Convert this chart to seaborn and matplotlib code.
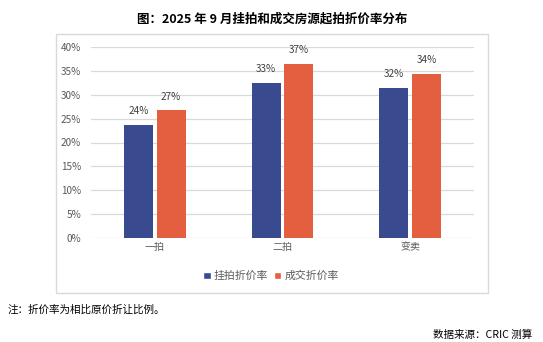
import matplotlib
matplotlib.use("Agg")
import matplotlib.pyplot as plt
import seaborn as sns
import pandas as pd
from matplotlib.patches import Rectangle, Patch

categories = ["一拍", "二拍", "变卖"]
series = ["挂拍折价率", "成交折价率"]
listed = [23.7, 32.5, 31.5]
closed = [26.8, 36.5, 34.4]
labels_listed = ["24%", "33%", "32%"]
labels_closed = ["27%", "37%", "34%"]
yticks = [0, 5, 10, 15, 20, 25, 30, 35, 40]
colors = ["#3A4A8F", "#E45F3F"]

df = pd.DataFrame({
    "cat": categories * 2,
    "series": [series[0]] * 3 + [series[1]] * 3,
    "val": listed + closed,
})

sns.set_theme(style="white")
plt.rcParams['font.family'] = ['Noto Sans CJK SC', 'DejaVu Sans']

W, H = 543, 342
fig = plt.figure(figsize=(W / 100, H / 100), dpi=100)

# outer chart box
fig.patches.append(Rectangle((56 / W, 1 - 293 / H), (488 - 56) / W, (293 - 34) / H,
                             transform=fig.transFigure, fill=False,
                             edgecolor="#D9D9D9", linewidth=1.0))

ax = fig.add_axes([91 / W, 1 - 238 / H, (474 - 91) / W, (238 - 47) / H])
sns.barplot(data=df, x="cat", y="val", hue="series", palette=colors,
            saturation=1, linewidth=0,
            width=0.51, gap=0.11, ax=ax, legend=False)

ax.set_ylim(0, 40)
ax.set_yticks(yticks)
ax.set_yticklabels([f"{t}%" for t in yticks], fontsize=7.2, color="#595959")
ax.tick_params(axis="x", labelsize=7.2, colors="#595959", length=0, pad=3)
ax.tick_params(axis="y", length=0, pad=7)
ax.set_xlabel("")
ax.set_ylabel("")
for s in ax.spines.values():
    s.set_visible(False)
ax.yaxis.grid(True, color="#D9D9D9", linewidth=0.9)
ax.set_axisbelow(True)

conts = ax.containers
for cont, labs in zip(conts, [labels_listed, labels_closed]):
    ax.bar_label(cont, labels=labs, padding=6, fontsize=7.2, color="#404040")

handles = [Patch(facecolor=c, label=l) for c, l in zip(colors, series)]
fig.legend(handles=handles, loc="center", bbox_to_anchor=(271 / W, 1 - 276 / H),
           ncol=2, frameon=False, fontsize=7.8, handlelength=0.7, handleheight=0.7,
           handletextpad=0.3, columnspacing=0.5, labelcolor="#595959")

fig.text(272 / W, 1 - 19 / H, "图：2025 年 9 月挂拍和成交房源起拍折价率分布",
         ha="center", va="center", fontsize=9, fontweight="bold", color="#000000")
fig.text(8 / W, 1 - 310 / H, "注：折价率为相比原价折让比例。", ha="left", va="center",
         fontsize=7.6, color="#000000")
fig.text(532 / W, 1 - 335 / H, "数据来源：CRIC 测算", ha="right", va="center",
         fontsize=7.6, color="#000000")

fig.savefig("out.png", dpi=100)
